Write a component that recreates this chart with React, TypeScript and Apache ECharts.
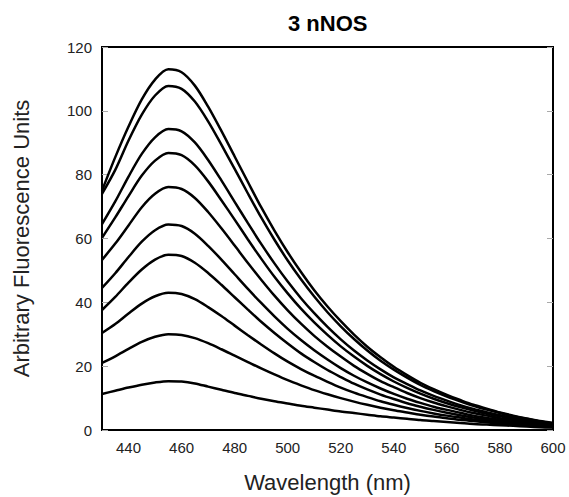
import React, { useEffect, useRef } from "react";
import * as echarts from "echarts";

const wavelengths = [
  430, 435, 440, 445, 450, 455, 460, 465, 470, 475, 480, 485, 490, 495, 500, 505, 510, 515, 520, 525,
  530, 535, 540, 545, 550, 555, 560, 565, 570, 575, 580, 585, 590, 595, 600,
];

const curve1 = [75, 85.5, 95.1, 103.6, 109.8, 113, 112.1, 107.9, 101.3, 93.7, 85.7, 77.7, 69.8, 62.5, 55.7, 49.5, 43.8, 38.7, 34.1, 29.9, 26.1, 22.8, 19.8, 17.2, 14.8, 12.8, 11, 9.4, 7.9, 6.7, 5.5, 4.5, 3.6, 2.8, 2.2];
const curve2 = [74, 81.5, 90.7, 98.8, 104.8, 107.8, 106.9, 102.9, 96.7, 89.4, 81.8, 74.1, 66.6, 59.6, 53.1, 47.2, 41.8, 36.9, 32.5, 28.5, 24.9, 21.7, 18.9, 16.4, 14.1, 12.2, 10.5, 9, 7.6, 6.4, 5.3, 4.3, 3.5, 2.7, 2.1];
const curve3 = [64.5, 71.6, 79.4, 86.5, 91.7, 94.3, 93.6, 90.1, 84.6, 78.2, 71.5, 64.8, 58.3, 52.2, 46.5, 41.3, 36.6, 32.3, 28.4, 24.9, 21.8, 19, 16.5, 14.4, 12.4, 10.7, 9.2, 7.8, 6.6, 5.6, 4.6, 3.8, 3, 2.4, 1.8];
const curve4 = [60.2, 66.6, 73.3, 79.7, 84.4, 86.8, 86.1, 82.9, 77.9, 72, 65.9, 59.7, 53.7, 48, 42.8, 38, 33.7, 29.8, 26.2, 23, 20.1, 17.5, 15.2, 13.2, 11.4, 9.8, 8.4, 7.2, 6.1, 5.1, 4.3, 3.5, 2.8, 2.2, 1.7];
const curve5 = [53.3, 58.4, 64.1, 69.8, 74, 76.1, 75.5, 72.7, 68.3, 63.2, 57.8, 52.3, 47.1, 42.1, 37.5, 33.3, 29.5, 26.1, 23, 20.1, 17.6, 15.3, 13.4, 11.6, 10, 8.6, 7.4, 6.3, 5.3, 4.5, 3.7, 3.1, 2.4, 1.9, 1.5];
const curve6 = [44.5, 49.1, 54.2, 59, 62.6, 64.4, 63.9, 61.5, 57.7, 53.4, 48.8, 44.2, 39.8, 35.6, 31.7, 28.2, 25, 22.1, 19.4, 17, 14.9, 13, 11.3, 9.8, 8.5, 7.3, 6.3, 5.4, 4.5, 3.8, 3.2, 2.6, 2.1, 1.7, 1.3];
const curve7 = [37.6, 41.7, 46.2, 50.3, 53.4, 54.9, 54.5, 52.4, 49.2, 45.5, 41.6, 37.7, 33.9, 30.4, 27.1, 24, 21.3, 18.8, 16.6, 14.5, 12.7, 11.1, 9.7, 8.4, 7.3, 6.3, 5.4, 4.6, 3.9, 3.3, 2.8, 2.3, 1.9, 1.5, 1.2];
const curve8 = [30.4, 33.2, 36.5, 39.6, 41.9, 43, 42.6, 41, 38.5, 35.7, 32.7, 29.7, 26.8, 24, 21.4, 19.1, 17, 15.1, 13.3, 11.7, 10.3, 9, 7.9, 6.9, 6, 5.2, 4.5, 3.9, 3.3, 2.8, 2.4, 2, 1.6, 1.3, 1];
const curve9 = [21, 23.1, 25.4, 27.6, 29.2, 30, 29.8, 28.8, 27.2, 25.3, 23.3, 21.3, 19.3, 17.4, 15.6, 14, 12.5, 11.2, 10, 8.9, 7.9, 7, 6.2, 5.5, 4.8, 4.2, 3.7, 3.2, 2.8, 2.4, 2, 1.7, 1.4, 1.1, 0.9];
const curve10 = [11.3, 12.3, 13.3, 14.2, 14.9, 15.3, 15.2, 14.6, 13.6, 12.6, 11.6, 10.7, 9.8, 9, 8.3, 7.6, 7, 6.4, 5.8, 5.3, 4.8, 4.3, 3.9, 3.5, 3.1, 2.8, 2.5, 2.2, 1.9, 1.7, 1.5, 1.3, 1.1, 0.9, 0.8];

const curves = [curve1, curve2, curve3, curve4, curve5, curve6, curve7, curve8, curve9, curve10];
const xTickLabels = [440, 460, 480, 500, 520, 540, 560, 580, 600];

const FONT = "'Liberation Sans', Arial, sans-serif";

export default function App() {
  const ref = useRef<HTMLDivElement>(null);
  useEffect(() => {
    if (!ref.current) return;
    const chart = echarts.init(ref.current, undefined, { renderer: "svg" });
    chart.setOption({
      animation: false,
      backgroundColor: "#fff",
      title: {
        text: "3 nNOS",
        left: 283,
        top: 7,
        textStyle: { fontFamily: FONT, fontSize: 22, fontWeight: "bold", color: "#000" },
      },
      grid: {
        left: 102,
        right: 16,
        top: 47,
        bottom: 67,
        containLabel: false,
        outerBoundsMode: "none",
        show: true,
        borderColor: "#000",
        borderWidth: 2,
        backgroundColor: "transparent",
      },
      xAxis: {
        type: "value",
        min: 430,
        max: 600,
        name: "Wavelength (nm)",
        nameLocation: "middle",
        nameGap: 41,
        nameTextStyle: { fontFamily: FONT, fontSize: 22, color: "#222" },
        axisLine: { show: false },
        axisTick: { show: false },
        splitLine: { show: false },
        axisLabel: {
          customValues: xTickLabels,
          fontFamily: FONT,
          fontSize: 15,
          color: "#222",
          margin: 10,
        },
      },
      yAxis: [
        {
          type: "value",
          min: 0,
          max: 120,
          interval: 20,
          name: "Arbitrary Fluorescence Units",
          nameLocation: "middle",
          nameGap: 70,
          nameTextStyle: { fontFamily: FONT, fontSize: 22, color: "#222" },
          axisLine: { show: false },
          axisTick: { show: true, inside: true, length: 6, lineStyle: { color: "#aaa", width: 1 } },
          splitLine: { show: false },
          axisLabel: { fontFamily: FONT, fontSize: 15, color: "#222", margin: 10 },
        },
        {
          type: "value",
          position: "right",
          min: 0,
          max: 120,
          interval: 20,
          axisLine: { show: false },
          axisTick: { show: true, inside: true, length: 6, lineStyle: { color: "#aaa", width: 1 } },
          splitLine: { show: false },
          axisLabel: { show: false },
        },
      ],
      series: curves.map((c, idx) => ({
        type: "line",
        name: "curve" + (idx + 1),
        showSymbol: false,
        smooth: 0.3,
        silent: true,
        lineStyle: { color: "#000", width: 2.5 },
        data: wavelengths.map((w, i) => [w, c[i]]),
      })),
    });
    return () => chart.dispose();
  }, []);
  return <div ref={ref} style={{ width: 569, height: 497, position: "absolute", left: 0, top: 0 }} />;
}
